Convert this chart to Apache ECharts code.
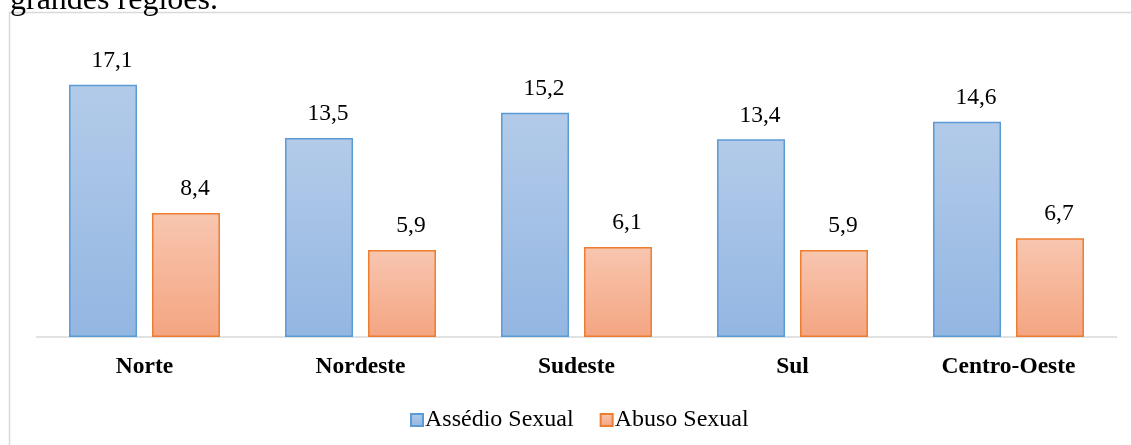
<!DOCTYPE html>
<html>
<head>
<meta charset="utf-8">
<script src="https://cdn.jsdelivr.net/npm/echarts@6/dist/echarts.min.js"></script>
<style>html,body{margin:0;padding:0;background:#fff;}#c{width:1131px;height:445px;}</style>
</head>
<body>
<div id="c"></div>
<script>
var categories = ['Norte', 'Nordeste', 'Sudeste', 'Sul', 'Centro-Oeste'];
var assedio = [17.1, 13.5, 15.2, 13.4, 14.6];
var abuso = [8.4, 5.9, 6.1, 5.9, 6.7];
var seriesNames = ['Assédio Sexual', 'Abuso Sexual'];

var FONT = '"Liberation Serif", "Times New Roman", serif';
var chart = echarts.init(document.getElementById('c'), null, {renderer: 'canvas'});
function fmt(p) { return String(p.value).replace('.', ','); }
function grad(a, b) {
  return new echarts.graphic.LinearGradient(0, 0, 0, 1, [{offset: 0, color: a}, {offset: 1, color: b}]);
}
chart.setOption({
  animation: false,
  backgroundColor: '#fff',
  graphic: [
    {type: 'rect', shape: {x: 9.5, y: 12.5, width: 1200, height: 500}, style: {fill: 'none', stroke: '#d9d9d9', lineWidth: 1.5}, silent: true},
    {type: 'text', x: 10, y: 17, style: {text: 'grandes regiões.', font: '32px ' + FONT, fill: '#000', verticalAlign: 'bottom'}, silent: true}
  ],
  grid: {left: 36.5, right: 14.5, top: 42, bottom: 108, containLabel: false},
  legend: {
    data: seriesNames, left: 405, top: 403, itemWidth: 12, itemHeight: 12, itemGap: 26,
    textStyle: {fontFamily: FONT, fontSize: 24, color: '#000', padding: [0, 0, 0, -3]},
    icon: 'rect'
  },
  xAxis: {
    type: 'category', data: categories,
    axisLine: {lineStyle: {color: '#d9d9d9', width: 1.5}},
    axisTick: {show: false},
    axisLabel: {fontFamily: FONT, fontSize: 23.5, fontWeight: 'bold', color: '#000', margin: 18}
  },
  yAxis: {type: 'value', min: 0, max: 20, show: false, splitLine: {show: false}},
  series: [
    {
      name: seriesNames[0], type: 'bar', data: assedio, barWidth: 68, barGap: '22%',
      itemStyle: {color: grad('#b3cbe9', '#93b6e2'), borderColor: '#5b9bd5', borderWidth: 1.5},
      label: {show: true, position: 'top', distance: 12, offset: [9, 0], formatter: fmt, fontFamily: FONT, fontSize: 23.5, color: '#000'}
    },
    {
      name: seriesNames[1], type: 'bar', data: abuso, barWidth: 68,
      itemStyle: {color: grad('#f8c6b0', '#f4a581'), borderColor: '#ed7d31', borderWidth: 1.5},
      label: {show: true, position: 'top', distance: 12, offset: [9, 0], formatter: fmt, fontFamily: FONT, fontSize: 23.5, color: '#000'}
    }
  ]
});
</script>
</body>
</html>
